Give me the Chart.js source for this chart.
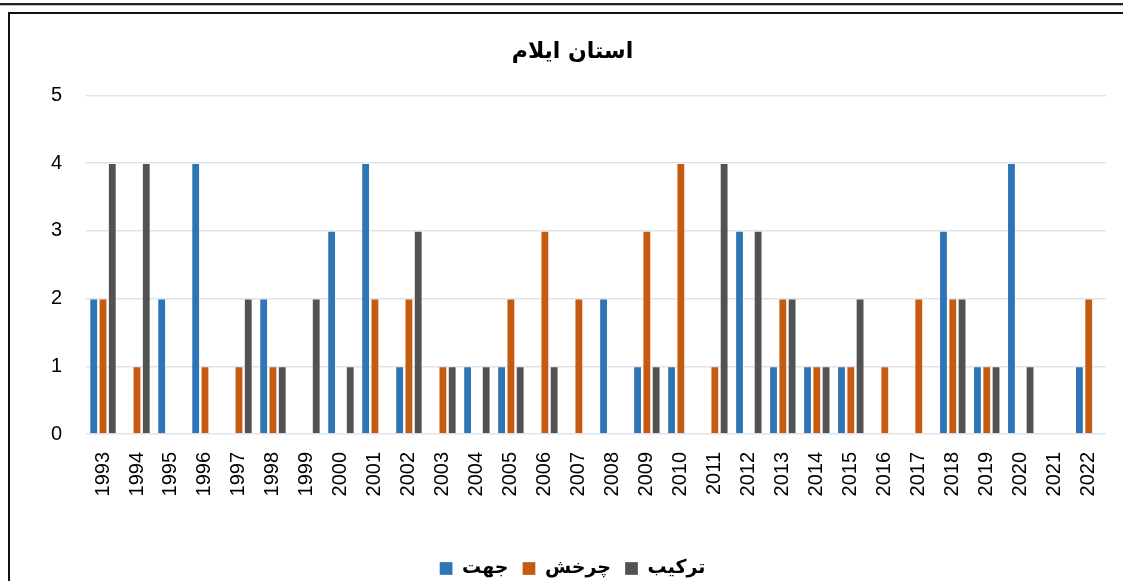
<!DOCTYPE html>
<html>
<head>
<meta charset="utf-8">
<script src="https://cdn.jsdelivr.net/npm/chart.js@4"></script>
<style>
  html, body { margin: 0; padding: 0; background: #fff; }
  body { width: 1123px; height: 581px; position: relative; overflow: hidden; }
  .rule { position: absolute; left: 0; top: 3px; width: 1123px; height: 2px; background: #222; border-bottom: 1px solid #bbb; }
  .frame { position: absolute; left: 8px; top: 12px; width: 1130px; height: 600px; border-top: 2px solid #111; border-left: 2px solid #111; }
  .wrap { position: absolute; left: 10px; top: 14px; width: 1113px; height: 574px; }
</style>
</head>
<body>
<div class="rule"></div>
<div class="frame"></div>
<div class="wrap"><canvas id="chart"></canvas></div>
<script>
var years = ["1993", "1994", "1995", "1996", "1997", "1998", "1999", "2000", "2001", "2002",
             "2003", "2004", "2005", "2006", "2007", "2008", "2009", "2010", "2011", "2012",
             "2013", "2014", "2015", "2016", "2017", "2018", "2019", "2020", "2021", "2022"];
var jahat   = [2, 0, 2, 4, 0, 2, 0, 3, 4, 1, 0, 1, 1, 0, 0, 2, 1, 1, 0, 3, 1, 1, 1, 0, 0, 3, 1, 4, 0, 1];
var charkhesh = [2, 1, 0, 1, 1, 1, 0, 0, 2, 2, 1, 0, 2, 3, 2, 0, 3, 4, 1, 0, 2, 1, 1, 1, 2, 2, 1, 0, 0, 2];
var tarkib  = [4, 4, 0, 0, 2, 1, 2, 1, 0, 3, 1, 1, 1, 1, 0, 0, 1, 0, 4, 3, 2, 1, 2, 0, 0, 2, 1, 1, 0, 0];
var yTicks = [0, 1, 2, 3, 4, 5];

var tickFont = { family: "'Liberation Sans', Arial, sans-serif", size: 20 };
var edge = "rgba(255,255,255,0.3)";

new Chart(document.getElementById("chart").getContext("2d"), {
    type: "bar",
    data: {
        labels: years,
        datasets: [
            { label: "جهت", data: jahat, backgroundColor: "#2E75B6", borderColor: edge, borderWidth: 1 },
            { label: "چرخش", data: charkhesh, backgroundColor: "#C55A11", borderColor: edge, borderWidth: 1 },
            { label: "ترکیب", data: tarkib, backgroundColor: "#525252", borderColor: edge, borderWidth: 1 }
        ]
    },
    options: {
        responsive: true,
        maintainAspectRatio: false,
        animation: false,
        categoryPercentage: 0.82,
        barPercentage: 0.95,
        layout: { padding: { left: 28, right: 16, top: 25, bottom: 0 } },
        plugins: {
            title: {
                display: true,
                text: "استان ایلام",
                color: "#000",
                font: { family: "'DejaVu Sans', sans-serif", size: 22, weight: "bold" },
                padding: { top: 0, bottom: 30 }
            },
            legend: {
                position: "bottom",
                labels: {
                    color: "#000",
                    boxWidth: 13,
                    boxHeight: 13,
                    padding: 14,
                    font: { family: "'DejaVu Sans', sans-serif", size: 19, weight: "bold" }
                }
            },
            tooltip: { enabled: false }
        },
        scales: {
            x: {
                grid: { display: false },
                border: { display: false },
                ticks: { color: "#000", font: tickFont, minRotation: 90, maxRotation: 90, padding: 10 },
                afterFit: function (scale) { scale.height = 111; }
            },
            y: {
                min: 0,
                max: 5,
                afterBuildTicks: function (scale) { scale.ticks = yTicks.map(function (v) { return { value: v }; }); },
                grid: { color: "#dfe3e8", lineWidth: 1.5, drawTicks: false },
                border: { display: false },
                ticks: { color: "#000", font: tickFont, padding: 24 },
                afterFit: function (scale) { scale.width = 48; }
            }
        }
    }
});
</script>
</body>
</html>
